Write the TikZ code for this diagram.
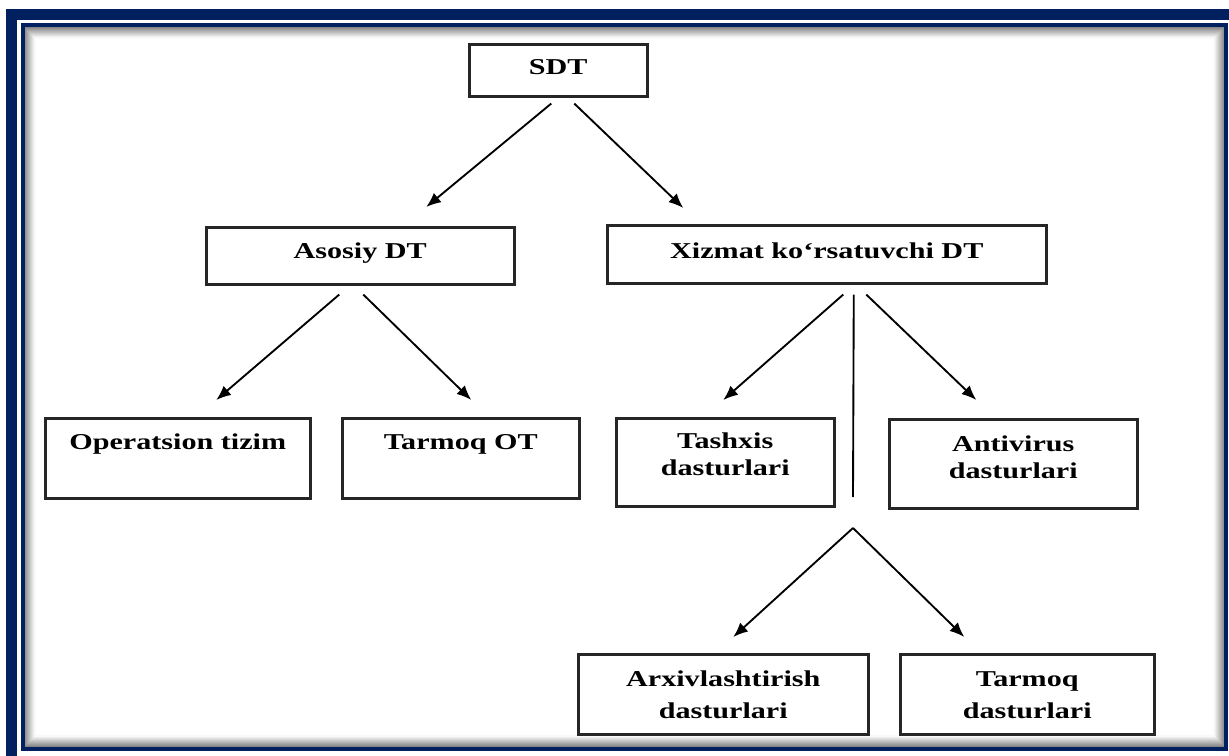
\documentclass[tikz,border=0pt]{standalone}
\usepackage{fontspec}
\setmainfont[FakeStretch=1.33]{Liberation Serif}
\usetikzlibrary{arrows.meta}
\definecolor{framenavy}{RGB}{0,32,96}

\begin{document}
\begin{tikzpicture}[x=0.75pt,y=-0.75pt]
\tikzstyle{blk}=[
	draw,
	line width=1.9pt,
	draw=black!85,
	anchor=north west,
	inner sep=0pt,
	align=center,
	font=\bfseries\fontsize{17}{20.5}\selectfont ]
\tikzstyle{arr}=[-{Latex[length=11pt,width=9pt]}, line width=1.4pt]
\useasboundingbox (0,0) rectangle (1229,756);
\clip (0,0) rectangle (1229,756);
\fill[white] (0,0) rectangle (1229,756);
\draw[framenavy, line width=8.25pt] (11.5,14.5) rectangle (1245,772);
\foreach \i [evaluate=\i as \g using 52-4.5*\i] in {1,...,11}
	\draw[black!\g, line width=0.8pt] (24+\i,27+\i) rectangle (1225-\i,747-\i);
\draw[framenavy, line width=3pt] (23,25.5) rectangle (1226,748.5);

\node[blk, text width=133.5pt, text height=22.5pt, text depth=16.5pt] (sdt) at (468,43) {SDT};
\node[blk, text width=231pt, text height=23.25pt, text depth=19.5pt] (asos) at (205,226) {Asosiy DT};
\node[blk, text width=329.25pt, text height=24.75pt, text depth=18.75pt] (xiz) at (606,224) {Xizmat ko‘rsatuvchi DT};
\node[blk, text width=198.75pt, text height=23.25pt, text depth=36.75pt] (ops) at (44,417) {Operatsion tizim};
\node[blk, text width=177.75pt, text height=23.25pt, text depth=36.75pt] (tot) at (341,417) {Tarmoq OT};
\node[blk, text width=163.5pt, text height=22.5pt, text depth=43.5pt] (tash) at (615,417) {Tashxis\\dasturlari};
\node[blk, text width=186pt, text height=24pt, text depth=42.75pt] (anti) at (888,418) {Antivirus\\dasturlari};
\node[blk, text width=217.5pt, text height=24pt, text depth=36pt] (arx) at (577,653) {Arxivlashtirish\\[3.5pt]dasturlari};
\node[blk, text width=190.5pt, text height=24pt, text depth=36pt] (tdas) at (899,653) {Tarmoq\\[3.5pt]dasturlari};
\coordinate (fork) at (853,528);

\draw[arr] ([shift={(-7,6)}]sdt.south) -- ([shift={(66,-19)}]asos.north);
\draw[arr] ([shift={(16,6)}]sdt.south) -- ([shift={(-143.5,-16)}]xiz.north);
\draw[arr] ([shift={(-21,9)}]asos.south) -- ([shift={(38.5,-17)}]ops.north);
\draw[arr] ([shift={(3,9)}]asos.south) -- ([shift={(10.5,-17)}]tot.north);
\draw[arr] ([shift={(16.5,10)}]xiz.south) -- ([shift={(-2,-17)}]tash.north);
\draw[line width=1.4pt] ([shift={(27,10)}]xiz.south) -- ([shift={(0,-31)}]fork);
\draw[arr] ([shift={(39.5,10)}]xiz.south) -- ([shift={(-37,-18)}]anti.north);
\draw[arr] (fork) -- ([shift={(10,-16)}]arx.north);
\draw[arr] (fork) -- ([shift={(-63,-16)}]tdas.north);
\end{tikzpicture}
\end{document}
